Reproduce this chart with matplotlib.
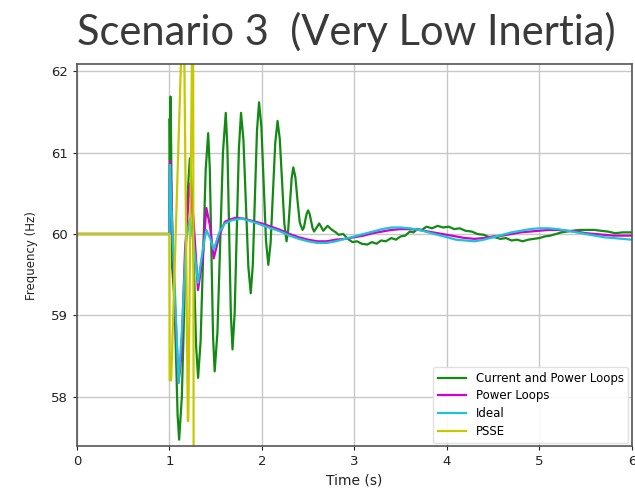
import matplotlib
matplotlib.use("Agg")
import matplotlib.pyplot as plt

# Current and Power Loops
t_cpl = [0.0, 1.0, 1.004, 1.008, 1.013, 1.020, 1.030, 1.040,
         1.0565, 1.073, 1.0895, 1.106,
         1.135, 1.164, 1.193, 1.222,
         1.244, 1.2665, 1.289, 1.311,
         1.338, 1.3655, 1.393, 1.42,
         1.4375, 1.455, 1.4725, 1.49,
         1.52, 1.55, 1.58, 1.61,
         1.628, 1.6465, 1.665, 1.683,
         1.706, 1.729, 1.752, 1.775,
         1.801, 1.8275, 1.854, 1.88,
         1.9025, 1.925, 1.9475, 1.97,
         1.995, 2.02, 2.045, 2.07,
         2.095, 2.12, 2.145, 2.17,
         2.194, 2.2185, 2.243, 2.267,
         2.285, 2.3035, 2.322, 2.34,
         2.3625, 2.385, 2.41, 2.44,
         2.455, 2.47, 2.485, 2.50,
         2.516, 2.5325, 2.549, 2.565,
         2.5925, 2.62, 2.6425, 2.665, 2.6875, 2.71,
         2.76, 2.80, 2.83, 2.88, 2.93, 2.98, 3.03, 3.08,
         3.14, 3.19, 3.24, 3.29, 3.34, 3.40, 3.45, 3.50, 3.55, 3.60, 3.64, 3.68, 3.73, 3.78,
         3.84, 3.90, 3.96, 4.02, 4.08, 4.14, 4.20, 4.27, 4.33, 4.40, 4.46, 4.52, 4.58, 4.64,
         4.70, 4.76, 4.82, 4.88, 4.94, 5.00, 5.06, 5.12, 5.18, 5.24, 5.30, 5.36, 5.44, 5.52,
         5.60, 5.66, 5.74, 5.82, 5.90, 6.0]
f_cpl = [60.0, 60.0, 61.42, 60.90, 61.69, 61.05, 59.60, 59.45,
         59.15, 58.46, 57.77, 57.47,
         57.99, 59.20, 60.41, 60.93,
         60.53, 59.58, 58.63, 58.23,
         58.68, 59.74, 60.79, 61.24,
         60.80, 59.78, 58.75, 58.31,
         58.79, 59.90, 61.01, 61.49,
         61.05, 60.04, 59.02, 58.58,
         59.02, 60.04, 61.05, 61.49,
         61.16, 60.38, 59.60, 59.27,
         59.62, 60.45, 61.27, 61.62,
         61.32, 60.62, 59.92, 59.62,
         59.89, 60.51, 61.12, 61.39,
         61.17, 60.65, 60.13, 59.91,
         60.05, 60.37, 60.68, 60.82,
         60.70, 60.42, 60.14, 60.05,
         60.08, 60.17, 60.25, 60.29,
         60.25, 60.16, 60.07, 60.03,
         60.08, 60.13, 60.085, 60.04, 60.07, 60.10,
         60.05, 60.02, 59.99, 60.00, 59.94, 59.90, 59.91, 59.88,
         59.87, 59.90, 59.88, 59.92, 59.91, 59.95, 59.93, 59.97, 59.98, 60.03, 60.02, 60.06, 60.05, 60.09,
         60.07, 60.10, 60.08, 60.09, 60.06, 60.07, 60.04, 60.03, 60.00, 59.99, 59.96, 59.96, 59.94, 59.95,
         59.92, 59.93, 59.91, 59.93, 59.94, 59.95, 59.97, 59.98, 60.00, 60.02, 60.03, 60.04, 60.05, 60.05,
         60.05, 60.04, 60.03, 60.01, 60.02, 60.02]

# Power Loops
t_pl = [0.0, 1.0, 1.003, 1.008, 1.02, 1.05, 1.10, 1.13, 1.17, 1.22, 1.26, 1.31, 1.36, 1.40, 1.44,
        1.48, 1.54, 1.60, 1.66, 1.72, 1.80, 1.90, 2.0, 2.1, 2.2, 2.3, 2.4, 2.5, 2.6, 2.7, 2.8,
        2.9, 3.0, 3.1, 3.2, 3.3, 3.4, 3.5, 3.6, 3.7, 3.8, 3.9, 4.0, 4.1, 4.2, 4.3, 4.4, 4.5,
        4.6, 4.7, 4.8, 4.9, 5.0, 5.1, 5.2, 5.3, 5.4, 5.5, 5.6, 5.7, 5.8, 5.9, 6.0]
f_pl = [60.0, 60.0, 60.5, 60.9, 60.6, 59.4, 58.17, 58.5, 59.8, 60.62, 60.2, 59.31, 59.7, 60.32, 60.1,
        59.70, 59.98, 60.15, 60.18, 60.20, 60.19, 60.16, 60.13, 60.09, 60.05, 60.00, 59.96, 59.93, 59.91,
        59.91, 59.93, 59.94, 59.96, 59.98, 60.01, 60.03, 60.05, 60.06, 60.06, 60.05, 60.03, 60.01, 59.99,
        59.97, 59.95, 59.94, 59.95, 59.97, 59.98, 60.00, 60.02, 60.03, 60.04, 60.05, 60.05, 60.04, 60.03,
        60.01, 60.00, 59.99, 59.98, 59.98, 59.98]

# Ideal
t_id = [0.0, 1.0, 1.003, 1.008, 1.02, 1.04, 1.05, 1.10, 1.14, 1.18, 1.22, 1.26, 1.31, 1.36, 1.40,
        1.44, 1.48, 1.54, 1.60, 1.68, 1.78, 1.90, 2.0, 2.1, 2.2, 2.3, 2.4, 2.5, 2.6, 2.7, 2.8,
        2.9, 3.0, 3.1, 3.2, 3.3, 3.4, 3.5, 3.6, 3.7, 3.8, 3.9, 4.0, 4.1, 4.2, 4.3, 4.4, 4.5,
        4.6, 4.7, 4.8, 4.9, 5.0, 5.1, 5.2, 5.3, 5.4, 5.5, 5.6, 5.7, 5.8, 5.9, 6.0]
f_id = [60.0, 60.0, 60.6, 60.85, 60.4, 59.85, 59.6, 58.17, 58.9, 59.9, 60.19, 59.9, 59.40, 59.8, 60.05,
        59.95, 59.81, 60.02, 60.13, 60.17, 60.19, 60.15, 60.11, 60.07, 60.03, 59.98, 59.94, 59.91, 59.89,
        59.89, 59.91, 59.94, 59.97, 60.00, 60.03, 60.06, 60.08, 60.08, 60.07, 60.05, 60.02, 59.99, 59.96,
        59.93, 59.92, 59.91, 59.93, 59.96, 59.99, 60.02, 60.04, 60.06, 60.07, 60.07, 60.06, 60.04, 60.02,
        60.00, 59.98, 59.96, 59.95, 59.94, 59.93]

# PSSE
t_ps = [0.0, 1.0, 1.004, 1.02, 1.15, 1.155, 1.20, 1.205, 1.252, 1.257, 1.27]
f_ps = [60.0, 60.0, 58.2, 58.2, 63.0, 63.0, 57.7, 57.7, 63.0, 63.0, 50.0]

labels = ["Current and Power Loops", "Power Loops", "Ideal", "PSSE"]

fig = plt.figure(figsize=(6.35, 4.93), dpi=100)
ax = fig.add_axes([0.121, 0.095, 0.874, 0.775])

ax.plot(t_cpl, f_cpl, color="#138a13", lw=1.6, label=labels[0])
ax.plot(t_pl, f_pl, color="#d000d0", lw=1.6, label=labels[1])
ax.plot(t_id, f_id, color="#1ec4d4", lw=1.6, label=labels[2])
ax.plot(t_ps, f_ps, color="#c8c800", lw=1.6, label=labels[3])

ax.set_xlim(0, 6)
ax.set_ylim(57.39, 62.09)
ax.set_xticks([0, 1, 2, 3, 4, 5, 6])
ax.set_yticks([58, 59, 60, 61, 62])
ax.grid(True, color="#c8c8c8", lw=1.0)
ax.tick_params(labelsize=9.5, colors="#222222", length=3)
for s in ax.spines.values():
    s.set_color("#555555")
    s.set_linewidth(1.2)

ax.set_xlabel("Time (s)", fontsize=10, color="#222222", labelpad=4)
ax.set_ylabel("Frequency (Hz)", fontsize=8.5, color="#222222", labelpad=9)

ax.legend(loc="lower right", fontsize=8.5, frameon=True, framealpha=0.9,
          edgecolor="#dddddd", borderaxespad=0.3, handlelength=2.4,
          labelspacing=0.4, borderpad=0.4)

fig.text(0.546, 0.9097, "Scenario 3  (Very Low Inertia)", fontsize=30, family="Lato",
         color="#3a3a3a", ha="center", va="baseline")

fig.savefig("out.png", dpi=100, facecolor="white")
